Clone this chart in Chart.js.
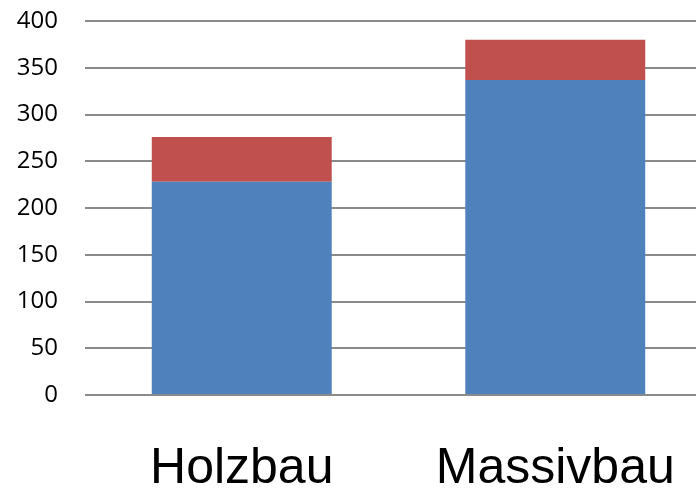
<!DOCTYPE html>
<html>
<head>
<meta charset="utf-8">
<script src="https://cdn.jsdelivr.net/npm/chart.js@4/dist/chart.umd.min.js"></script>
<style>
  html, body { margin: 0; padding: 0; background: #fff; overflow: hidden; }
  #wrap { width: 712px; height: 488px; }
</style>
</head>
<body>
<div id="wrap"><canvas id="myChart"></canvas></div>
<script>
// data
var categories = ['Holzbau', 'Massivbau'];
var blueValues = [228, 337];
var redValues = [48, 43];   // stacked on top of blue
var yTicks = [0, 50, 100, 150, 200, 250, 300, 350, 400];

var chartData = {
    labels: categories,
    datasets: [{
        label: 'unten',
        data: blueValues,
        backgroundColor: '#4F81BD',
        borderWidth: 0
    }, {
        label: 'oben',
        data: redValues,
        backgroundColor: '#C0504D',
        borderWidth: 0
    }]
};

var config = {
    type: 'bar',
    data: chartData,
    options: {
        responsive: true,
        maintainAspectRatio: false,
        animation: false,
        layout: { padding: 0 },
        datasets: { bar: { categoryPercentage: 1, barPercentage: 0.574 } },
        plugins: {
            legend: { display: false },
            tooltip: { enabled: false }
        },
        scales: {
            x: {
                stacked: true,
                grid: { display: false, drawTicks: false },
                border: { display: false },
                ticks: {
                    color: '#000',
                    padding: 44,
                    maxRotation: 0,
                    minRotation: 0,
                    autoSkip: false,
                    font: { family: 'Liberation Sans', size: 50 }
                },
                afterFit: function(scale) {
                    scale.height = 93;
                    scale.paddingTop = 0;
                    scale.paddingRight = 0;
                    scale.paddingLeft = 0;
                }
            },
            y: {
                stacked: true,
                min: 0,
                max: 400,
                afterBuildTicks: function(scale) {
                    scale.ticks = yTicks.map(function(v) { return { value: v }; });
                },
                grid: { color: '#8a8a8a', lineWidth: 2, drawTicks: false },
                border: { display: false },
                ticks: {
                    color: '#000',
                    padding: 27,
                    font: { family: 'Open Sans', size: 24 }
                },
                afterFit: function(scale) {
                    scale.width = 85;
                    scale.paddingTop = 21;
                    scale.paddingBottom = 0;
                }
            }
        }
    }
};

var myChart = new Chart(document.getElementById('myChart'), config);
</script>
</body>
</html>
